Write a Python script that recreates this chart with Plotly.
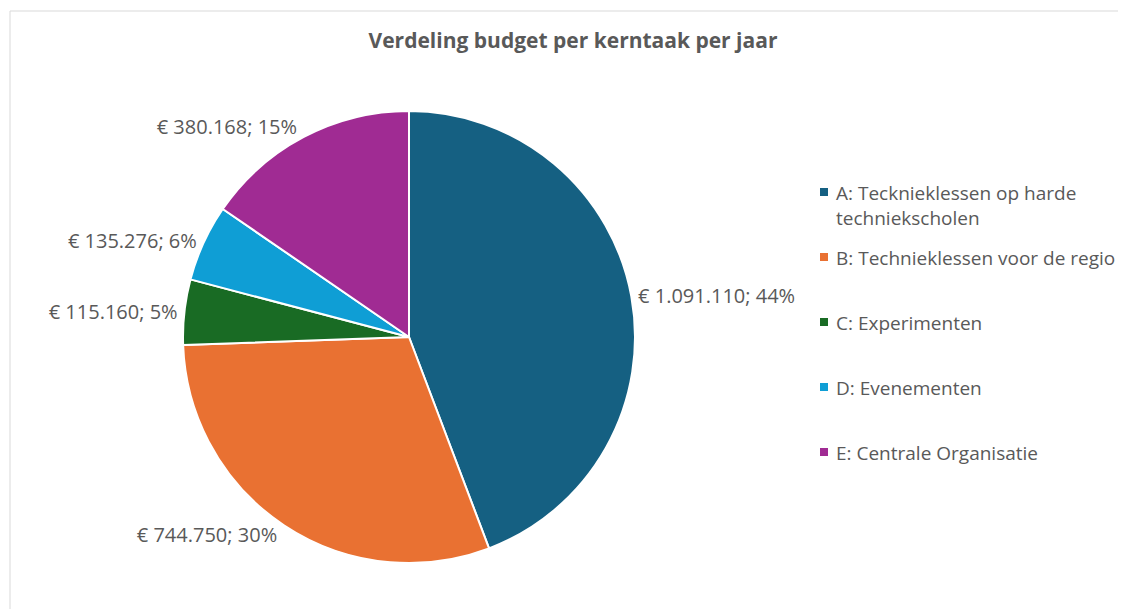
import plotly.graph_objects as go

# budget per core task (euro)
labels = [
    "A: Tecknieklessen op harde<br>techniekscholen",
    "B: Technieklessen voor de regio",
    "C: Experimenten",
    "D: Evenementen",
    "E: Centrale Organisatie",
]
values = [1091110, 744750, 115160, 135276, 380168]
percent_labels = [44, 30, 5, 6, 15]  # as shown in the picture
colors = ["#156082", "#E97132", "#196B24", "#0F9ED5", "#A02B93"]

W, H = 1126, 609
OFF = 8  # page body margin
grey = "#595959"
font = "Open Sans"


def px(x):
    return (x - OFF) / W


def py(y):
    return 1 - (y - OFF) / H


# pie centre / radius in screen pixels
cx, cy, r = 409, 337, 226

fig = go.Figure()

fig.add_trace(go.Pie(
    labels=labels,
    values=values,
    customdata=percent_labels,
    sort=False,
    direction="clockwise",
    rotation=0,
    marker=dict(colors=colors, line=dict(color="white", width=2)),
    textposition="outside",
    texttemplate="€ %{value:,}; %{customdata}%",
    outsidetextfont=dict(family=font, size=20, color=grey),
    hoverinfo="label+value",
    showlegend=False,
    domain=dict(x=[px(cx - r), px(cx + r)], y=[py(cy + r), py(cy - r)]),
))

# legend drawn by hand so the entries get Excel's even spacing
leg_x, leg_y, leg_step = 820, 191, 65
legend_font = 19
line_h = legend_font * 1.3
annotations = []
shapes = [dict(
    type="rect", xref="paper", yref="paper",
    x0=px(10), x1=1.02, y0=-0.02, y1=py(11),
    line=dict(color="#d9d9d9", width=1),
    layer="below",
)]
for i, (lab, col) in enumerate(zip(labels, colors)):
    yc = leg_y + i * leg_step
    shapes.append(dict(
        type="rect", xref="paper", yref="paper",
        x0=px(leg_x), x1=px(leg_x + 8), y0=py(yc + 5), y1=py(yc - 3),
        fillcolor=col, line=dict(width=0),
    ))
    annotations.append(dict(
        text=lab, xref="paper", yref="paper",
        x=px(leg_x + 14), xanchor="left",
        y=py(yc - line_h / 2 - 1), yanchor="top",
        align="left", showarrow=False,
        font=dict(family=font, size=legend_font, color=grey),
    ))

fig.update_layout(
    width=W, height=H,
    margin=dict(l=0, r=0, t=0, b=0),
    paper_bgcolor="white",
    plot_bgcolor="white",
    separators=",.",
    font=dict(family=font, color=grey),
    title=dict(
        text="<b>Verdeling budget per kerntaak per jaar</b>",
        x=px(573), xanchor="center",
        y=py(41), yanchor="middle",
        font=dict(family=font, size=21, color=grey),
    ),
    shapes=shapes,
    annotations=annotations,
)

fig.write_html("out.html")
